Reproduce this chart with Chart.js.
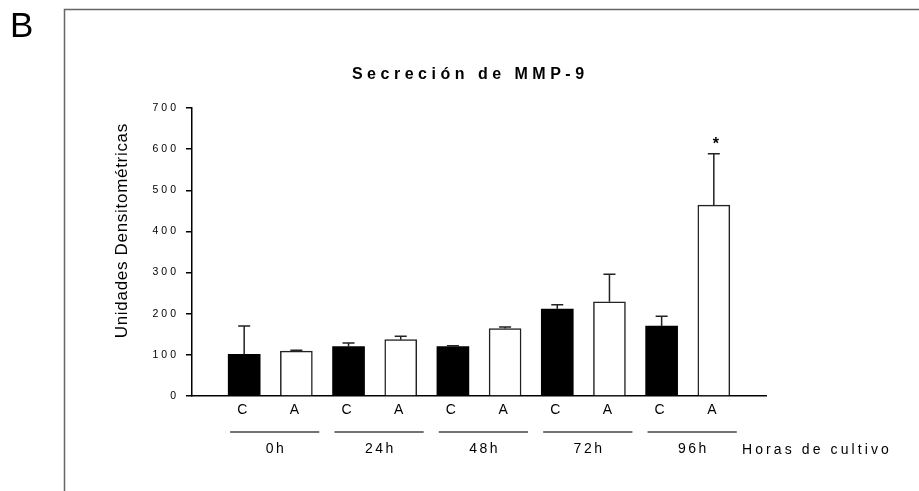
<!DOCTYPE html>
<html>
<head>
<meta charset="utf-8">
<title>Secreción de MMP-9</title>
<script src="https://cdn.jsdelivr.net/npm/chart.js@4.4.1/dist/chart.umd.min.js"></script>
<style>
  html, body { margin: 0; padding: 0; background: #fff; }
  #wrap { position: relative; width: 919px; height: 491px; }
</style>
</head>
<body>
<div id="wrap"><canvas id="mmpChart" width="919" height="491"></canvas></div>
<script>
// valores
const groupLabels = ['0h', '24h', '48h', '72h', '96h'];
const barLabels = ['C', 'A'];
const controlMeans = [101, 120, 120, 211, 170];
const controlErrors = [69, 9, 2, 11, 24];
const treatedMeans = [109, 137, 164, 229, 464];
const treatedErrors = [2, 8, 4, 67, 125];
const significant = [false, false, false, false, true];
const yTicks = [0, 100, 200, 300, 400, 500, 600, 700];

const FONT = '"Liberation Sans", Arial, sans-serif';

// texto con espaciado entre letras, letra por letra
function spacedText(ctx, text, px, py, spacing, align) {
    let total = 0;
    for (const ch of text) total += ctx.measureText(ch).width;
    total += spacing * (text.length - 1);
    let cx = px;
    if (align === 'center') cx = px - total / 2;
    else if (align === 'right') cx = px - total;
    ctx.textAlign = 'left';
    for (const ch of text) {
        ctx.fillText(ch, cx, py);
        cx += ctx.measureText(ch).width + spacing;
    }
}

const decorPlugin = {
    id: 'decor',
    afterDraw(chart) {
        const ctx = chart.ctx;
        const x = chart.scales.x;
        const y = chart.scales.y;
        ctx.save();

        // marco del panel
        ctx.strokeStyle = '#666';
        ctx.lineWidth = 1.5;
        ctx.beginPath();
        ctx.moveTo(64.5, 491);
        ctx.lineTo(64.5, 9.5);
        ctx.lineTo(919, 9.5);
        ctx.stroke();

        ctx.fillStyle = '#000';
        ctx.textBaseline = 'alphabetic';
        ctx.font = '35px ' + FONT;
        ctx.textAlign = 'left';
        ctx.fillText('B', 10, 37);

        // título
        ctx.font = 'bold 16px ' + FONT;
        ctx.textBaseline = 'middle';
        spacedText(ctx, 'Secreción de MMP-9', 468, 75, 4.5, 'center');

        // etiquetas del eje y
        ctx.font = '10.5px ' + FONT;
        yTicks.forEach(v => {
            spacedText(ctx, String(v), 176, y.getPixelForValue(v), 3, 'right');
        });

        // título del eje y
        ctx.save();
        ctx.translate(122, 231);
        ctx.rotate(-Math.PI / 2);
        ctx.font = '17px ' + FONT;
        spacedText(ctx, 'Unidades Densitométricas', 0, 0, 0.7, 'center');
        ctx.restore();

        // barras de error, etiquetas C / A
        const errs = [controlErrors, treatedErrors];
        const means = [controlMeans, treatedMeans];
        chart.data.datasets.forEach((ds, d) => {
            const meta = chart.getDatasetMeta(d);
            meta.data.forEach((bar, i) => {
                const top = y.getPixelForValue(means[d][i]);
                const errTop = y.getPixelForValue(means[d][i] + errs[d][i]);
                ctx.strokeStyle = '#222';
                ctx.lineWidth = 1.5;
                ctx.beginPath();
                ctx.moveTo(bar.x, top);
                ctx.lineTo(bar.x, errTop);
                ctx.moveTo(bar.x - 6, errTop);
                ctx.lineTo(bar.x + 6, errTop);
                ctx.stroke();

                ctx.fillStyle = '#000';
                ctx.font = '14px ' + FONT;
                ctx.textAlign = 'center';
                ctx.fillText(barLabels[d], bar.x - 2, 410);

                if (d === 1 && significant[i]) {
                    ctx.font = 'bold 16px ' + FONT;
                    ctx.fillText('*', bar.x + 2, errTop - 9);
                }
            });
        });

        // líneas de grupo y horas
        groupLabels.forEach((lab, g) => {
            const x0 = x.getPixelForValue(2 * g - 0.27);
            const x1 = x.getPixelForValue(2 * g + 1.44);
            ctx.strokeStyle = '#444';
            ctx.lineWidth = 1.5;
            ctx.beginPath();
            ctx.moveTo(x0, 432);
            ctx.lineTo(x1, 432);
            ctx.stroke();
            ctx.fillStyle = '#000';
            ctx.font = '14px ' + FONT;
            spacedText(ctx, lab, (x0 + x1) / 2, 449, 2.5, 'center');
        });
        ctx.font = '14px ' + FONT;
        spacedText(ctx, 'Horas de cultivo', 742, 450, 3.1, 'left');

        ctx.restore();
    }
};

new Chart(document.getElementById('mmpChart'), {
    type: 'bar',
    data: {
        datasets: [
            {
                label: 'C',
                data: controlMeans.map((v, i) => ({ x: 2 * i, y: v })),
                backgroundColor: '#000',
                borderWidth: 0,
                barThickness: 32,
                grouped: false
            },
            {
                label: 'A',
                data: treatedMeans.map((v, i) => ({ x: 2 * i + 1, y: v })),
                backgroundColor: '#fff',
                borderColor: '#222',
                borderWidth: 1.5,
                barThickness: 32,
                grouped: false
            }
        ]
    },
    options: {
        responsive: false,
        animation: false,
        devicePixelRatio: 1,
        layout: { padding: { top: 108, right: 153, bottom: 0, left: 0 } },
        plugins: {
            legend: { display: false },
            tooltip: { enabled: false }
        },
        scales: {
            x: {
                type: 'linear',
                min: -1,
                max: 10,
                offset: false,
                grid: { display: false },
                border: { display: true, color: '#000', width: 1.5 },
                ticks: { display: false },
                afterFit(s) { s.height = 95; }
            },
            y: {
                min: 0,
                max: 700,
                ticks: { display: false, stepSize: 100 },
                grid: { drawOnChartArea: false, drawTicks: true, tickLength: 6, color: '#000', lineWidth: 1.5 },
                border: { display: true, color: '#000', width: 1.5 },
                afterFit(s) { s.width = 192; }
            }
        }
    },
    plugins: [decorPlugin]
});
</script>
</body>
</html>
